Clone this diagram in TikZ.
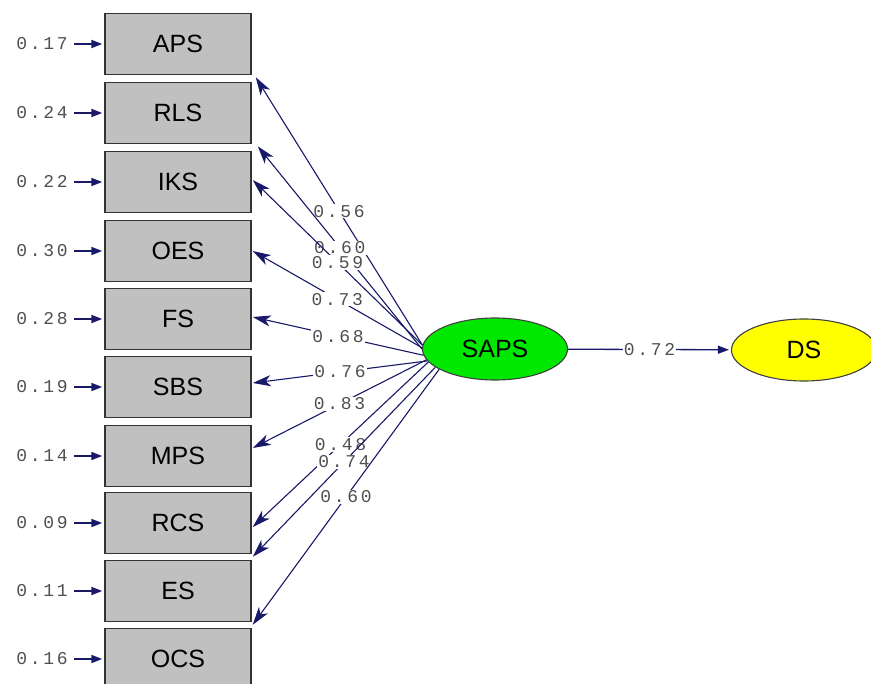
\documentclass[tikz,border=0pt]{standalone}
\usepackage{fontspec}
\setmainfont{Liberation Sans}
\newfontfamily\numfont[LetterSpace=15]{Liberation Mono}
\usetikzlibrary{arrows.meta,shapes.geometric}
\definecolor{navy}{RGB}{25,25,105}
\definecolor{boxgray}{RGB}{192,192,192}
\definecolor{numgray}{RGB}{80,80,80}
\definecolor{sapsgreen}{RGB}{0,232,0}
\definecolor{dsyellow}{RGB}{255,255,0}
\begin{document}
\begin{tikzpicture}[x=1pt,y=-1pt,
  obs/.style={draw=black!80, line width=1.5pt, fill=boxgray, minimum width=146pt, minimum height=61pt, inner sep=0pt, font=\fontsize{25}{27}\selectfont},
  lat/.style={ellipse, draw=black!75, line width=1.1pt, minimum width=145pt, minimum height=62pt, inner sep=0pt, font=\fontsize{25}{27}\selectfont},
  num/.style={font=\numfont\fontsize{18}{19}\selectfont, text=numgray, inner sep=1pt},
  lbl/.style={num, fill=white},
  conn/.style={draw=navy, line width=1.1pt, -{Stealth[length=18pt,width=11pt,inset=5pt]}},
  res/.style={draw=navy, line width=1.8pt, shorten <=5pt, shorten >=2pt, -{Triangle[length=11pt,width=8pt]}}
]
\useasboundingbox (0,0) rectangle (871,684);
\clip (0,0) rectangle (871,684);
\fill[white] (0,0) rectangle (871,684);

\node[obs] (APS) at (178,44) {APS};
\node[obs] (RLS) at (178,113) {RLS};
\node[obs] (IKS) at (178,182) {IKS};
\node[obs] (OES) at (178,251) {OES};
\node[obs] (FS)  at (178,319) {FS};
\node[obs] (SBS) at (178,387) {SBS};
\node[obs] (MPS) at (178,456) {MPS};
\node[obs] (RCS) at (178,523) {RCS};
\node[obs] (ES)  at (178,591) {ES};
\node[obs] (OCS) at (178,659) {OCS};

\node[lat, fill=sapsgreen] (SAPS) at (495,349) {SAPS};
\node[lat, fill=dsyellow] (DS) at (804,350) {DS};

\node[num, anchor=east] (r1) at (69,44) {0.17};
\node[num, anchor=east] (r2) at (69,113) {0.24};
\node[num, anchor=east] (r3) at (69,182) {0.22};
\node[num, anchor=east] (r4) at (69,251) {0.30};
\node[num, anchor=east] (r5) at (69,319) {0.28};
\node[num, anchor=east] (r6) at (69,387) {0.19};
\node[num, anchor=east] (r7) at (69,456) {0.14};
\node[num, anchor=east] (r8) at (69,523) {0.09};
\node[num, anchor=east] (r9) at (69,591) {0.11};
\node[num, anchor=east] (r10) at (69,659) {0.16};

\draw[res] (r1) -- (APS);
\draw[res] (r2) -- (RLS);
\draw[res] (r3) -- (IKS);
\draw[res] (r4) -- (OES);
\draw[res] (r5) -- (FS);
\draw[res] (r6) -- (SBS);
\draw[res] (r7) -- (MPS);
\draw[res] (r8) -- (RCS);
\draw[res] (r9) -- (ES);
\draw[res] (r10) -- (OCS);

\draw[conn] (SAPS.177) -- ([xshift=4pt,yshift=-2pt]APS.south east) node[lbl,pos=.5] {0.56};
\draw[conn] (SAPS.180) -- ([xshift=6pt,yshift=-2pt]RLS.south east) node[lbl,pos=.5] {0.60};
\draw[conn] (SAPS.177) -- ([xshift=1pt,yshift=2pt]IKS.east) node[lbl,pos=.5] {0.59};
\draw[conn] (SAPS.179) -- ([xshift=1pt]OES.east) node[lbl,pos=.5] {0.73};
\draw[conn] (SAPS.185) -- ([xshift=1pt,yshift=2pt]FS.east) node[lbl,pos=.5] {0.68};
\draw[conn] (SAPS.190) -- ([xshift=1pt,yshift=4pt]SBS.east) node[lbl,pos=.5] {0.76};
\draw[conn] (SAPS.189) -- ([xshift=1pt,yshift=8pt]MPS.east) node[lbl,pos=.5] {0.83};
\draw[conn] (SAPS.191) -- ([xshift=1pt,yshift=-4pt]RCS.east) node[lbl,pos=.5] {0.48};
\draw[conn] (SAPS.197) -- ([xshift=1pt,yshift=3pt]ES.north east) node[lbl,pos=.5] {0.74};
\draw[conn] (SAPS.200) -- ([xshift=1pt,yshift=3pt]OCS.north east) node[lbl,pos=.5] {0.60};

\draw[res, line width=1.3pt, shorten <=0pt] (SAPS) -- (DS) node[lbl,pos=.5] {0.72};
\end{tikzpicture}
\end{document}
